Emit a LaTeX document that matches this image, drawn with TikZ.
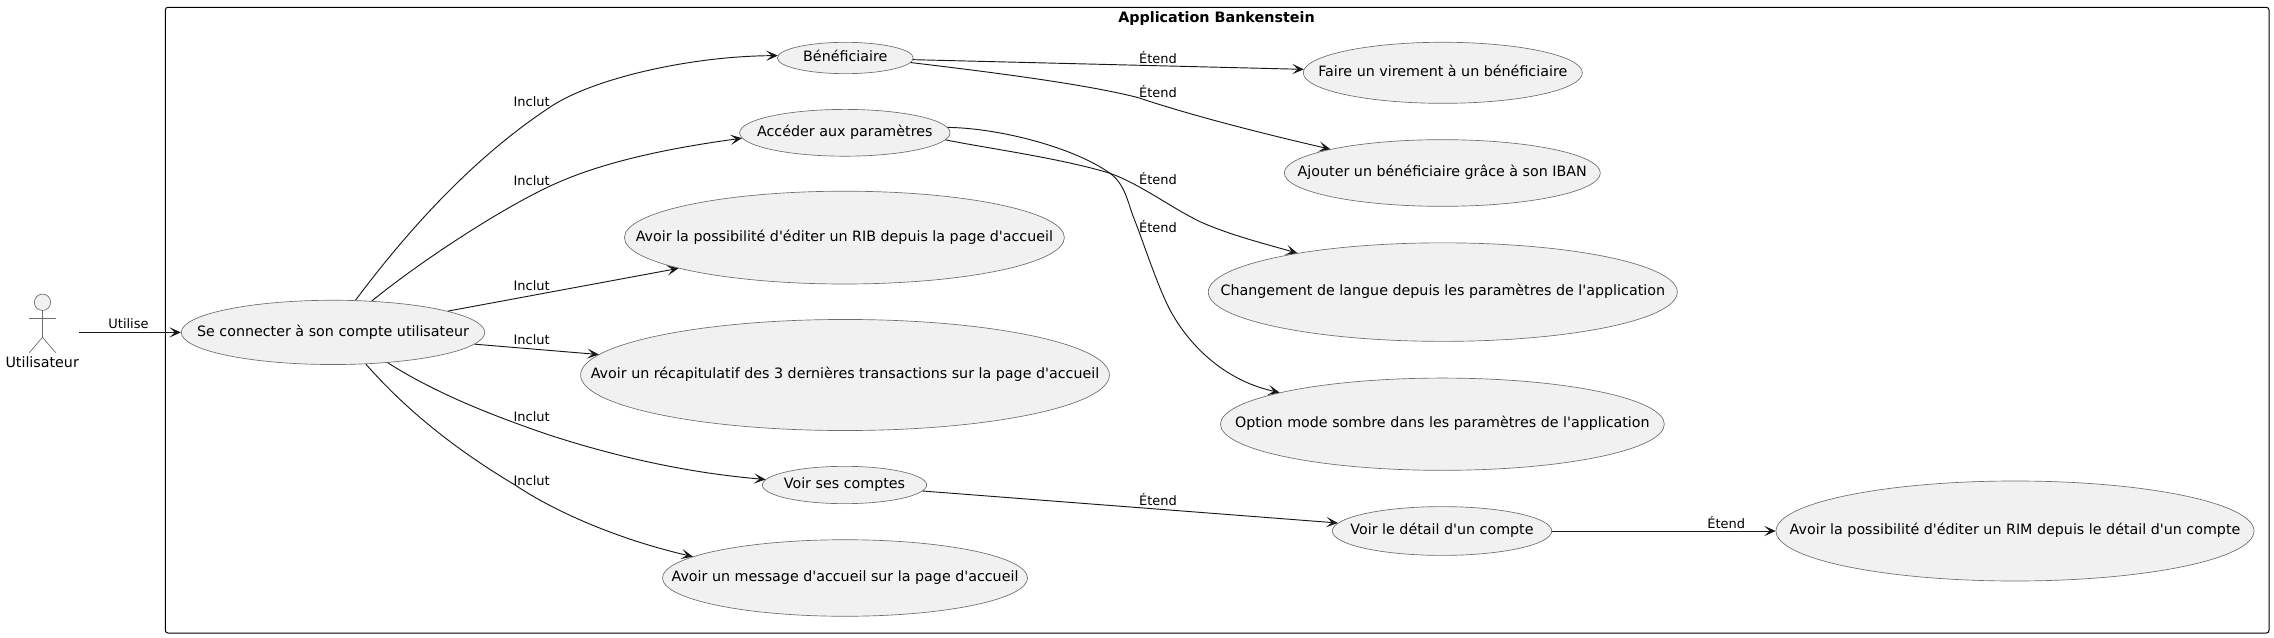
\documentclass[tikz,border=0pt]{standalone}
\usepackage{fontspec}
\setmainfont{DejaVu Sans}[Ligatures=TeXOff]
\usetikzlibrary{shapes, arrows.meta, positioning}

\definecolor{umlfill}{HTML}{F1F1F1}
\definecolor{umlline}{HTML}{181818}
\definecolor{umlborder}{HTML}{6E6E6E}

\begin{document}
\begin{tikzpicture}[
    x=0.75pt, y=-0.75pt,
    usecase/.style={ellipse, draw=umlborder, line width=0.5pt, fill=umlfill, inner sep=0pt,
        font=\fontsize{10.7pt}{12pt}\selectfont, text height=7.6pt, text depth=2pt},
    caselabel/.style={inner sep=0pt, font=\fontsize{9.75pt}{11pt}\selectfont},
    flow/.style={draw=umlline, line width=0.7pt,
        -{Stealth[length=8.7pt, width=7.7pt, inset=4.2pt]}},
    actorline/.style={draw=umlborder, line width=0.5pt}
]
\useasboundingbox (0,0) rectangle (2274,638);

\draw [black, line width=0.75pt, rounded corners=2pt] (165.3,7.3) rectangle (2269,633);
\node (AppTitle) [inner sep=0pt, font=\fontsize{10.75pt}{12pt}\selectfont\bfseries] at (1216.5,18.5) {Application Bankenstein};

\node (ActorHead) [circle, draw=umlborder, line width=0.5pt, fill=umlfill, inner sep=0pt, minimum size=12.3pt] at (42.5,302.3) {};
\coordinate (ActorHip) at (42.5,337.3);
\coordinate (ArmLeft) at (29.3,318.3);
\coordinate (ArmRight) at (55.7,318.3);
\coordinate (LegLeft) at (29.3,352.7);
\coordinate (LegRight) at (55.7,352.7);
\node (ActorName) [inner sep=0pt, font=\fontsize{10.7pt}{12pt}\selectfont] at (42.2,362) {Utilisateur};
\coordinate (ActorOut) at (79,332.4);
\draw [actorline] (ActorHead) -- (ActorHip);
\draw [actorline] (ArmLeft) -- (ArmRight);
\draw [actorline] (LegLeft) -- (ActorHip) -- (LegRight);

\node (Login) [usecase, minimum width=227.6pt, minimum height=48.2pt] at (333,332.4) {\makebox[0pt]{Se connecter à son compte utilisateur}};
\node (Benef) [usecase, minimum width=101.9pt, minimum height=23.5pt] at (845.3,58) {\makebox[0pt]{Bénéficiaire}};
\node (Params) [usecase, minimum width=157.8pt, minimum height=35.1pt] at (844.8,132.8) {\makebox[0pt]{Accéder aux paramètres}};
\node (EditRib) [usecase, minimum width=330pt, minimum height=69.6pt] at (844.4,237.6) {\makebox[0pt]{Avoir la possibilité d'éditer un RIB depuis la page d'accueil}};
\node (Recap) [usecase, minimum width=396.6pt, minimum height=83.3pt] at (845,375) {\makebox[0pt]{Avoir un récapitulatif des 3 dernières transactions sur la page d'accueil}};
\node (Comptes) [usecase, minimum width=123.2pt, minimum height=28pt] at (844.5,485) {\makebox[0pt]{Voir ses comptes}};
\node (Message) [usecase, minimum width=273.8pt, minimum height=57.4pt] at (845,578) {\makebox[0pt]{Avoir un message d'accueil sur la page d'accueil}};
\node (Virement) [usecase, minimum width=209.3pt, minimum height=45.8pt] at (1442.8,72.8) {\makebox[0pt]{Faire un virement à un bénéficiaire}};
\node (Iban) [usecase, minimum width=237pt, minimum height=50pt] at (1442.3,173) {\makebox[0pt]{Ajouter un bénéficiaire grâce à son IBAN}};
\node (Langue) [usecase, minimum width=351.8pt, minimum height=73.9pt] at (1442.8,292.1) {\makebox[0pt]{Changement de langue depuis les paramètres de l'application}};
\node (Sombre) [usecase, minimum width=332.9pt, minimum height=69.2pt] at (1442.4,424.2) {\makebox[0pt]{Option mode sombre dans les paramètres de l'application}};
\node (Detail) [usecase, minimum width=164.6pt, minimum height=36.6pt] at (1442,531) {\makebox[0pt]{Voir le détail d'un compte}};
\node (EditRim) [usecase, minimum width=358.5pt, minimum height=75pt] at (2015,531) {\makebox[0pt]{Avoir la possibilité d'éditer un RIM depuis le détail d'un compte}};

\draw [flow] (ActorOut) -- (Login);
\draw [flow] (Login.55.2) .. controls (420,214) and (484,151) .. (548.3,108.3)
    .. controls (590,79) and (690,56) .. (Benef.178);
\draw [flow] (Login.39.6) .. controls (421,261) and (497.7,211) .. (547.7,187.2)
    .. controls (600,162) and (670,148) .. (Params.183.5);
\draw [flow] (Login) -- (EditRib);
\draw [flow] (Login) -- (Recap);
\draw [flow] (Login.-29.8) .. controls (440,396) and (500,418) .. (547.7,434.5)
    .. controls (620,458) and (690,473) .. (Comptes.176.6);
\draw [flow] (Login.-44.8) .. controls (415,420) and (470,458) .. (515,485)
    .. controls (560,515) and (625,541) .. (Message.172.2);
\draw [flow] (Benef) -- (Virement);
\draw [flow] (Benef.-4.2) .. controls (990,72) and (1085,84) .. (1138,97.6)
    .. controls (1190,115) and (1260,133) .. (Iban.168.3);
\draw [flow] (Params.-4.6) .. controls (985,148) and (1060,158) .. (1110,173.3)
    .. controls (1140,184) and (1170,207) .. (1200,221.7)
    .. controls (1230,235) and (1262,243) .. (Langue.165);
\draw [flow] (Params.3.1) .. controls (1000,128) and (1075,148) .. (1110,173.3)
    .. controls (1125,184) and (1128,203) .. (1133.3,216.7)
    .. controls (1143,241) and (1157,285) .. (1170,310)
    .. controls (1185,338) and (1218,379) .. (Sombre.169.9);
\draw [flow] (Comptes) -- (Detail);
\draw [flow] (Detail) -- (EditRim);

\node (UseLabel) [caselabel] at (128.5,323.5) {Utilise};
\node (Inclut01) [caselabel] at (531.7,101.3) {Inclut};
\node (Inclut02) [caselabel] at (531.7,181) {Inclut};
\node (Inclut03) [caselabel] at (531.7,285.6) {Inclut};
\node (Inclut04) [caselabel] at (531.7,339.3) {Inclut};
\node (Inclut05) [caselabel] at (531.7,416.6) {Inclut};
\node (Inclut06) [caselabel] at (531.7,480.5) {Inclut};
\node (Etend01) [caselabel] at (1158,57.4) {Étend};
\node (Etend02) [caselabel] at (1158,91.1) {Étend};
\node (Etend03) [caselabel] at (1158,179) {Étend};
\node (Etend04) [caselabel] at (1158,226.2) {Étend};
\node (Etend05) [caselabel] at (1158,499.2) {Étend};
\node (Etend06) [caselabel] at (1726.3,522.4) {Étend};

\end{tikzpicture}
\end{document}
